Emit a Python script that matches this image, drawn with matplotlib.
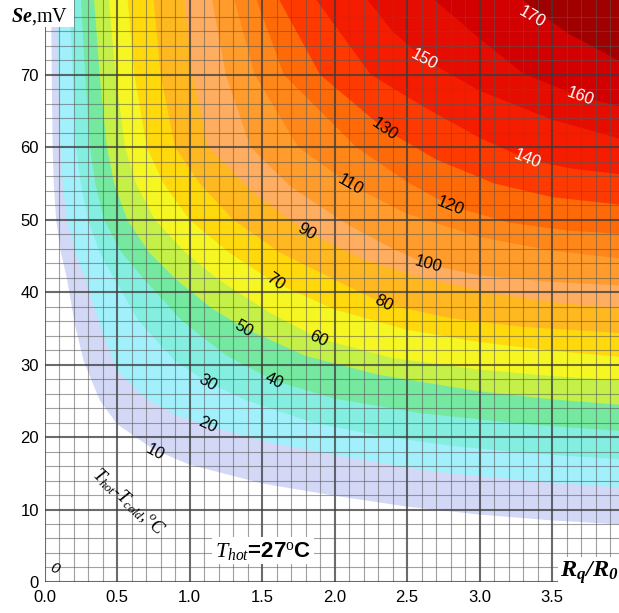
import matplotlib
matplotlib.use("Agg")
import matplotlib.pyplot as plt
from matplotlib.patches import Rectangle
from matplotlib.ticker import FixedLocator, MultipleLocator

plt.rcParams['mathtext.fontset'] = 'custom'
plt.rcParams['mathtext.rm'] = 'Liberation Serif'
plt.rcParams['mathtext.it'] = 'Liberation Serif:italic'
plt.rcParams['mathtext.bf'] = 'Liberation Serif:bold'
plt.rcParams['mathtext.bfit'] = 'Liberation Serif:italic:bold'

# contour levels of Thot - Tcold (degC)
levels = [10, 20, 30, 40, 50, 60, 70, 80, 90, 100, 110, 120, 130, 140, 150, 160, 170]

# each contour as (Rq/R0, Se) points, from the top edge to the right edge
contour_x = [
    [0.045, 0.05, 0.056, 0.064, 0.08, 0.113, 0.156, 0.21, 0.27, 0.38, 0.5, 0.75, 1.0, 1.5, 2.0, 2.5, 3.0, 3.5, 4.0],
    [0.086, 0.095, 0.11, 0.125, 0.155, 0.21, 0.285, 0.38, 0.5, 0.7, 0.9, 1.12, 1.5, 2.0, 2.59, 3.0, 3.5, 4.0],
    [0.17, 0.195, 0.217, 0.25, 0.30, 0.38, 0.485, 0.65, 0.9, 1.13, 1.4, 1.85, 2.3, 2.8, 3.3, 4.0],
    [0.25, 0.28, 0.314, 0.35, 0.41, 0.53, 0.69, 0.95, 1.25, 1.58, 2.0, 2.59, 3.3, 4.0],
    [0.34, 0.38, 0.43, 0.48, 0.57, 0.72, 0.91, 1.15, 1.38, 1.8, 2.3, 3.0, 3.5, 4.0],
    [0.44, 0.49, 0.555, 0.63, 0.76, 0.97, 1.2, 1.55, 1.89, 2.4, 3.0, 3.5, 4.0],
    [0.57, 0.62, 0.705, 0.82, 1.0, 1.27, 1.58, 2.0, 2.5, 3.0, 3.5, 4.0],
    [0.75, 0.8, 0.9, 1.07, 1.3, 1.62, 2.0, 2.34, 2.8, 3.3, 4.0],
    [0.96, 1.02, 1.13, 1.45, 1.81, 2.2, 2.6, 3.1, 3.5, 4.0],
    [1.15, 1.25, 1.42, 1.7, 2.1, 2.4, 2.645, 3.0, 3.5, 4.0],
    [1.3, 1.45, 1.75, 2.11, 2.5, 3.0, 3.5, 4.0],
    [1.45, 1.65, 2.15, 2.5, 2.8, 3.2, 3.6, 4.0],
    [1.6, 1.9, 2.35, 2.7, 3.1, 3.5, 4.0],
    [1.85, 2.25, 2.62, 3.0, 3.33, 3.65, 4.0],
    [2.2, 2.4, 2.62, 3.0, 3.5, 4.0],
    [2.65, 3.0, 3.3, 3.69, 4.0],
    [3.25, 3.6, 4.0],
]
contour_y = [
    [81, 70, 60, 55, 50, 45.5, 41.7, 35.5, 30.5, 25.1, 21.8, 18.3, 16.2, 13.6, 11.9, 10.4, 9.3, 8.5, 7.9],
    [81, 70, 60, 55, 50, 45.5, 41.7, 35.5, 29.2, 25.3, 23.1, 21.6, 19.5, 17.5, 15.5, 14.6, 13.7, 13.0],
    [81, 70, 60, 55, 50, 45.5, 41.7, 36, 30.5, 27.5, 25, 22, 20.2, 18.8, 17.8, 16.9],
    [81, 70, 60, 55, 50, 45.5, 41.7, 36, 31.3, 27.8, 25.3, 23.3, 21.8, 20.8],
    [81, 70, 60, 55, 50, 45.5, 41.7, 37.8, 35, 31.2, 28.6, 26.3, 25.2, 24.4],
    [81, 70, 60, 55, 50, 45.5, 41.7, 37.2, 33.6, 30.9, 29.3, 28.4, 27.8],
    [81, 70, 60, 55, 50, 45.5, 41.4, 37.6, 34.8, 33.1, 31.9, 31.0],
    [81, 70, 60, 55, 50, 45.5, 41.7, 38.4, 36.4, 35.2, 34.3],
    [81, 70, 60, 53.5, 48.3, 44.5, 42.0, 39.8, 38.6, 37.7],
    [81, 70, 60, 54.5, 49.2, 46.0, 43.8, 42.3, 41.4, 40.9],
    [81, 70, 60, 54.8, 50.8, 47.6, 45.7, 44.6],
    [81, 70, 60, 55.2, 51.9, 49.6, 48.5, 48.0],
    [81, 70, 62.4, 58.3, 55.0, 53.1, 52.0],
    [81, 70, 65.5, 61.3, 58.3, 57.0, 56.2],
    [81, 76, 72.1, 67.8, 63.8, 61.0],
    [81, 75, 70.2, 67.0, 65.5],
    [81, 75.8, 71.5],
]

# fill colour of the band above each level
band_colors = ['#d2d8f6', '#a2f0fb', '#84eee0', '#76e9a0', '#c4f048', '#f6f622',
               '#ffd90c', '#ffb820', '#ffad60', '#ff9c2c', '#ff8618', '#ff6a08',
               '#ff3a00', '#f51c00', '#e60c00', '#d20000', '#a00000']

# inline contour labels: position, rotation
label_x = [0.762, 1.121, 1.128, 1.583, 1.376, 1.886, 1.590, 2.341, 1.810, 2.645, 2.107, 2.797, 2.348, 3.328, 2.617, 3.693, 3.362]
label_y = [17.9, 21.7, 27.5, 27.8, 35.0, 33.6, 41.4, 38.4, 48.3, 43.8, 54.8, 51.9, 62.4, 58.3, 72.1, 67.0, 77.9]
label_rot = [-28, -25, -30, -25, -30, -25, -35, -27, -30, -15, -30, -22, -35, -22, -28, -20, -30]

y_ticks = [0, 10, 20, 30, 40, 50, 60, 70]

XMAX, YMAX = 3.962, 80.3

fig = plt.figure(figsize=(6.19, 6.13), dpi=100)
ax = fig.add_axes([0.0719, 0.0506, 0.9281, 0.9494])
ax.set_xlim(0, XMAX)
ax.set_ylim(0, YMAX)

# filled bands, each level drawn over the previous one
for cx, cy, col in zip(contour_x, contour_y, band_colors):
    px = list(cx) + [4.3, 4.3, cx[0]]
    py = list(cy) + [cy[-1], 90, 90]
    ax.fill(px, py, color=col, lw=0, zorder=1)

ax.xaxis.set_major_locator(MultipleLocator(0.5))
ax.xaxis.set_minor_locator(MultipleLocator(0.1))
ax.yaxis.set_major_locator(FixedLocator(y_ticks))
ax.yaxis.set_minor_locator(FixedLocator(list(range(0, 80, 2))))
ax.set_axisbelow(False)
ax.grid(which='minor', color='#555555', lw=0.8, alpha=0.55)
ax.grid(which='major', color='#3a3a3a', lw=1.5, alpha=0.75)
ax.tick_params(which='both', length=0, labelsize=12)
ax.tick_params(axis='x', pad=6)
ax.tick_params(axis='y', pad=4)
for lab in ax.get_xticklabels() + ax.get_yticklabels():
    lab.set_fontfamily('Liberation Sans')
for sp in ax.spines.values():
    sp.set_visible(False)

for lev, lx, ly, rot in zip(levels, label_x, label_y, label_rot):
    ax.text(lx, ly, str(lev), rotation=rot, ha='center', va='center',
            fontsize=12, family='Liberation Sans',
            color='white' if lev >= 140 else 'black', zorder=4)
ax.text(0.072, 1.9, '0', rotation=-20, ha='center', va='center', fontsize=11,
        family='Liberation Sans', style='italic', zorder=4)

# white corner behind the axis title
ax.add_patch(Rectangle((-0.02, 76.6), 0.22, 6, fc='white', ec='none', zorder=3, clip_on=False))
fig.text(11 / 619, 1 - 22 / 613, r'$\mathbfit{Se}$,mV', family='Liberation Serif',
         fontsize=14.5, va='baseline')

ax.text(3.962, 0.7, r'$\mathbfit{R}_{\mathbfit{q}}\mathbfit{/}\mathbfit{R}_{\mathbfit{0}}$',
        ha='right', va='baseline', fontsize=17.5, zorder=5,
        bbox=dict(fc='white', ec='none', pad=2))

ax.text(1.176, 3.5, r'$T_{hot}$=27$^{\mathrm{o}}$C', family='Liberation Sans',
        weight='bold', fontsize=16, va='baseline', zorder=5,
        bbox=dict(fc='white', ec='none', pad=2))

ax.text(0.575, 11.0, r'$T_{hot}$-$T_{cold}$,$^{o}$C', family='Liberation Serif',
        style='italic', fontsize=13, rotation=-42, ha='center', va='center',
        rotation_mode='anchor', zorder=5)

fig.savefig('out.png', dpi=100)
